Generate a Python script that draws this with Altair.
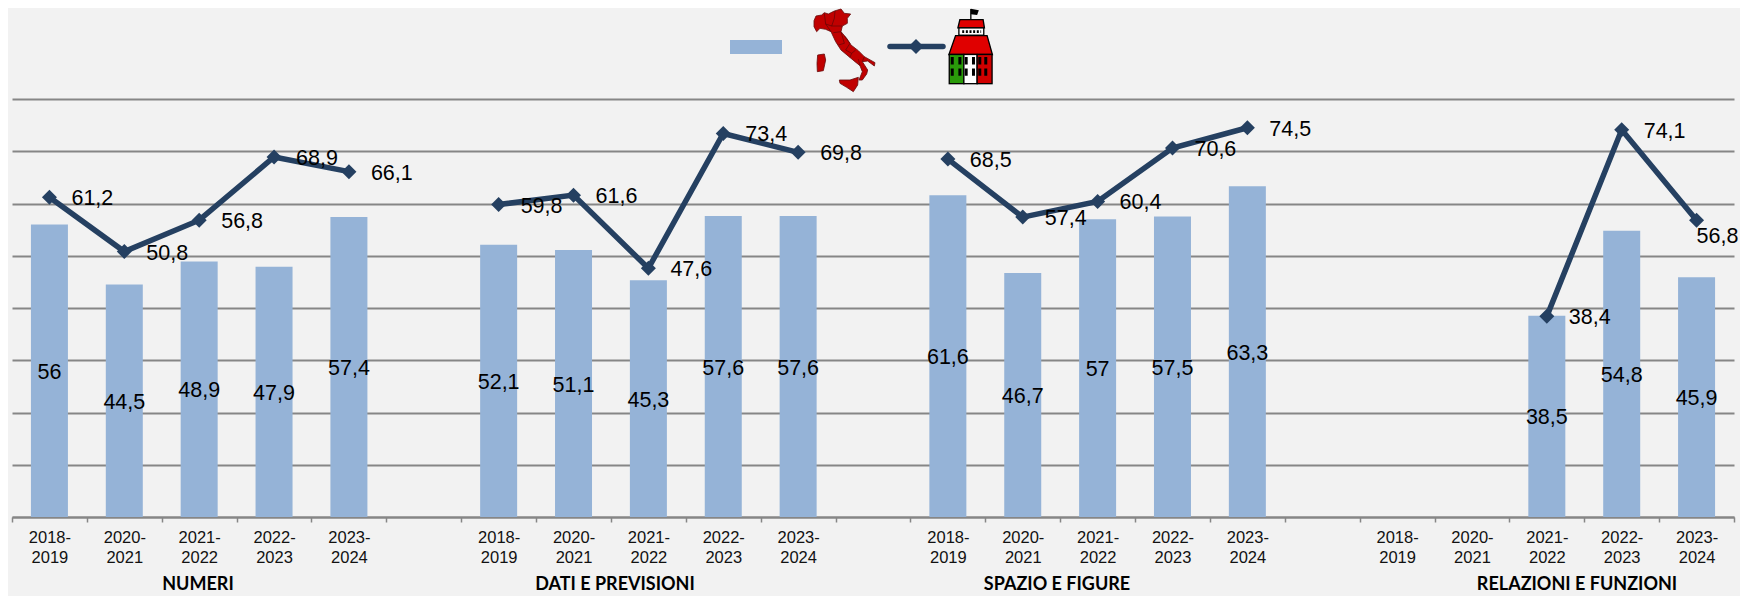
import base64
import altair as alt
import pandas as pd

groups = ["NUMERI", "DATI E PREVISIONI", "SPAZIO E FIGURE", "RELAZIONI E FUNZIONI"]
group_title_x = [186, 603, 1045, 1565]
years = ["2018- 2019", "2020- 2021", "2021- 2022", "2022- 2023", "2023- 2024"]
italia = [
    [56, 44.5, 48.9, 47.9, 57.4],
    [52.1, 51.1, 45.3, 57.6, 57.6],
    [61.6, 46.7, 57, 57.5, 63.3],
    [None, None, 38.5, 54.8, 45.9],
]
scuola = [
    [61.2, 50.8, 56.8, 68.9, 66.1],
    [59.8, 61.6, 47.6, 73.4, 69.8],
    [68.5, 57.4, 60.4, 70.6, 74.5],
    [None, None, 38.4, 74.1, 56.8],
]

BG = "#F2F2F2"
BAR = "#95B3D7"
LINE = "#254061"
GRID = "#868686"

rows, domain = [], []
for gi, g in enumerate(groups):
    for yi, yr in enumerate(years):
        key = f"{g}|{yr}"
        domain.append(key)
        rows.append({"key": key, "group": g, "it": italia[gi][yi], "sc": scuola[gi][yi]})
    if gi < len(groups) - 1:
        domain.append(f"gap{gi}")
df = pd.DataFrame(rows).dropna()
df["mid"] = df["it"] / 2
fmt = lambda v: f"{v:g}".replace(".", ",")
df["it_label"] = df["it"].map(fmt)
df["sc_label"] = df["sc"].map(fmt)
df_main = df.iloc[:-1]
df_last = df.iloc[-1:]

x = alt.X(
    "key:N",
    scale=alt.Scale(domain=domain, paddingInner=0, paddingOuter=0),
    title=None,
    axis=alt.Axis(
        labelExpr="split(split(datum.value,'|')[1]||'',' ')",
        labelAngle=0, labelFont="Liberation Sans", labelFontSize=16.5, labelColor="#111111",
        labelPadding=7, labelLineHeight=20, labelOverlap=False, labelBaseline="top",
        tickBand="extent", tickSize=5, tickColor=GRID, tickWidth=1.5,
        domainColor=GRID, domainWidth=2, grid=False,
    ),
)
y = alt.Y(
    "it:Q",
    scale=alt.Scale(domain=[0, 80], nice=False),
    title=None,
    axis=alt.Axis(values=list(range(0, 90, 10)), labels=False, ticks=False, domain=False,
                  grid=True, gridColor=GRID, gridWidth=2, gridOpacity=1),
)

bars = alt.Chart(df).mark_bar(color=BAR, size=37).encode(x=x, y=y)
line = alt.Chart(df).mark_line(color=LINE, strokeWidth=5.5).encode(
    x=alt.X("key:N"), y=alt.Y("sc:Q"), detail="group:N", order=alt.Order("key:N"))
pts = alt.Chart(df).mark_point(shape="diamond", filled=True, color=LINE, opacity=1, size=225).encode(
    x=alt.X("key:N"), y=alt.Y("sc:Q"))
lab_line = alt.Chart(df_main).mark_text(align="left", baseline="middle", dx=22, dy=2, font="Liberation Sans",
                                        fontSize=21.5, color="#000000").encode(
    x=alt.X("key:N"), y=alt.Y("sc:Q"), text="sc_label:N")
lab_last = alt.Chart(df_last).mark_text(align="left", baseline="middle", dx=0, dy=17, font="Liberation Sans",
                                        fontSize=21.5, color="#000000").encode(
    x=alt.X("key:N"), y=alt.Y("sc:Q"), text="sc_label:N")
lab_bar = alt.Chart(df).mark_text(align="center", baseline="middle", dy=2, font="Liberation Sans",
                                  fontSize=21.5, color="#000000").encode(
    x=alt.X("key:N"), y=alt.Y("mid:Q"), text="it_label:N")

one = pd.DataFrame({"a": [0]})
group_titles = [
    alt.Chart(one).mark_text(align="center", baseline="alphabetic", font="Lato", fontWeight="bold",
                             fontSize=18, color="#000000").encode(
        x=alt.value(px), y=alt.value(491), text=alt.value(t))
    for t, px in zip(groups, group_title_x)
]

# Legend icons
italy_svg = """<svg xmlns='http://www.w3.org/2000/svg' viewBox='0 0 300 300'>
<g fill='#C00000' stroke='#6a1010' stroke-width='2.5' stroke-linejoin='round'>
<path d='M27 62L33 48L50 45L58 38L70 42L88 33L108 27L118 40L137 42L127 55L127 70L112 78L108 95L125 115L138 135L160 152L178 170L210 188L208 198L188 183L172 185L188 210L185 222L172 240L162 240L172 215L165 197L150 185L132 170L108 150L92 125L78 95L62 88L45 85L35 95L27 80Z'/>
<path d='M38 165L58 162L62 180L55 212L37 215L36 190Z'/>
<path d='M103 240L135 240L160 232L158 255L145 275L125 262L105 250Z'/>
</g>
<path d='M58 40L62 72L80 78L88 55L90 33M62 72L78 95M80 78L112 78M85 98L108 95L118 130L100 135M118 108L135 130L122 150M122 150L140 160L152 150M140 160L135 172M165 197L160 178M172 185L178 170' fill='none' stroke='#5a0808' stroke-width='2'/>
</svg>"""
building_svg = """<svg xmlns='http://www.w3.org/2000/svg' viewBox='740 22 140 235'>
<path d='M811 60V28' stroke='#000' stroke-width='4'/><path d='M811 27L835 32L830 46L811 44Z' fill='#000'/>
<path d='M772 85L778 60H848L852 85Z' fill='#E00000' stroke='#000' stroke-width='4'/>
<rect x='775' y='85' width='75' height='22' fill='#fff' stroke='#000' stroke-width='4'/>
<path d='M785 96H842' stroke='#000' stroke-width='8' stroke-dasharray='6 5'/>
<path d='M765 108H860L876 165H745Z' fill='#E00000' stroke='#000' stroke-width='4'/>
<rect x='746' y='165' width='44' height='88' fill='#2A9A0A' stroke='#000' stroke-width='4'/>
<rect x='790' y='165' width='40' height='88' fill='#fff' stroke='#000' stroke-width='4'/>
<rect x='830' y='165' width='45' height='88' fill='#D00000' stroke='#000' stroke-width='4'/>
<path d='M755 173V195M755 207V229M778 173V195M778 207V229M797 173V195M797 207V229M819 173V195M819 207V229M838 173V195M838 207V229M856 173V195M856 207V229' stroke='#000' stroke-width='9'/>
</svg>"""
uri = lambda s: "data:image/svg+xml;base64," + base64.b64encode(s.encode()).decode()

leg_rect = alt.Chart(one).mark_rect(color=BAR).encode(
    x=alt.value(718), x2=alt.value(770), y=alt.value(-59), y2=alt.value(-45))
leg_line = alt.Chart(one).mark_rule(color=LINE, strokeWidth=5.5, strokeCap="round").encode(
    x=alt.value(878), x2=alt.value(931), y=alt.value(-52.5))
leg_pt = alt.Chart(one).mark_point(shape="diamond", filled=True, color=LINE, opacity=1, size=225).encode(
    x=alt.value(904), y=alt.value(-52.5))
leg_it = alt.Chart(one).mark_image(width=100, height=100, align="left", baseline="top").encode(
    x=alt.value(793), y=alt.value(-99), url=alt.value(uri(italy_svg)))
leg_bd = alt.Chart(one).mark_image(width=47, height=78, align="left", baseline="top").encode(
    x=alt.value(935), y=alt.value(-92), url=alt.value(uri(building_svg)))

chart = alt.layer(bars, line, pts, lab_bar, lab_line, lab_last, *group_titles,
                  leg_rect, leg_line, leg_pt, leg_it, leg_bd).properties(
    width=1722, height=418, background=BG,
    padding={"left": 4, "top": 91, "right": 6, "bottom": 79},
    autosize=alt.AutoSizeParams(type="none"),
).configure_view(stroke=None)

chart.save("out.html", embed_options={"renderer": "svg", "actions": False})
